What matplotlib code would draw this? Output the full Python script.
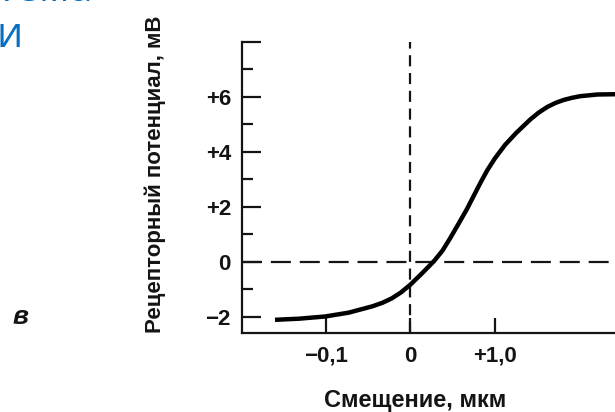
import matplotlib
matplotlib.use("Agg")
import matplotlib.pyplot as plt
from matplotlib.ticker import FixedLocator

# ---- data ----
displacement = [-1.60, -1.32, -1.01, -0.73, -0.45, -0.33, -0.22, -0.11, 0.0, 0.14,
                0.28, 0.38, 0.47, 0.57, 0.67, 0.75, 0.83, 0.91, 1.0, 1.12,
                1.25, 1.42, 1.52, 1.62, 1.72, 1.81, 1.91, 2.01, 2.21, 2.42]
potential = [-2.12, -2.08, -2.0, -1.86, -1.63, -1.50, -1.34, -1.12, -0.84, -0.42,
             0.02, 0.40, 0.85, 1.38, 1.92, 2.40, 2.88, 3.33, 3.76, 4.25,
             4.68, 5.18, 5.43, 5.63, 5.78, 5.88, 5.96, 6.02, 6.08, 6.09]
y_major = [-2, 0, 2, 4, 6, 8]
y_major_labels = ["\u22122", "0", "+2", "+4", "+6", ""]
y_minor = [-1, 1, 3, 5, 7]
x_ticks = [-1, 0, 1]
x_tick_labels = ["\u22120,1", "0", "+1,0"]
xlabel = "Смещение, мкм"
ylabel = "Рецепторный потенциал, мВ"

W, H = 615, 412
fig = plt.figure(figsize=(W / 100, H / 100), dpi=100)
fig.patch.set_facecolor("white")

# axes placement in pixels
ax_left, ax_right, ax_top, ax_bottom = 242, 616, 39, 333
ax = fig.add_axes([ax_left / W, (H - ax_bottom) / H,
                   (ax_right - ax_left) / W, (ax_bottom - ax_top) / H])
ax.set_xlim(-1.99, 2.43)
ax.set_ylim(-2.6, 8.1)

ink = "#141414"
font = "Liberation Sans"

for s in ["top", "right"]:
    ax.spines[s].set_visible(False)
for s in ["left", "bottom"]:
    ax.spines[s].set_color(ink)
    ax.spines[s].set_linewidth(1.6)
ax.spines["left"].set_bounds(-2.6, 8.0)

ax.yaxis.set_major_locator(FixedLocator(y_major))
ax.yaxis.set_minor_locator(FixedLocator(y_minor))
ax.set_yticklabels(y_major_labels)
ax.set_xticks(x_ticks)
ax.set_xticklabels(x_tick_labels)

ax.tick_params(axis="y", which="major", direction="in", length=14, width=1.6,
               color=ink, pad=8, labelsize=16, labelcolor=ink)
ax.tick_params(axis="y", which="minor", direction="in", length=8, width=1.6,
               color=ink)
ax.tick_params(axis="x", which="major", direction="in", length=11, width=1.6,
               color=ink, pad=9, labelsize=16, labelcolor=ink)
for lab in ax.get_xticklabels() + ax.get_yticklabels():
    lab.set_fontfamily(font)
    lab.set_fontweight("bold")

# reference dashed lines
ax.axhline(0, color=ink, lw=1.6, dashes=(9, 4), zorder=1)
ax.axvline(0, ymax=(8.0 + 2.6) / 10.7, color=ink, lw=1.6, dashes=(5, 3), zorder=1)

# curve
ax.plot(displacement, potential, color="black", lw=3.2, solid_capstyle="butt",
        solid_joinstyle="round", zorder=3, clip_on=False)

ax.set_facecolor("none")

# axis labels
fig.text(415 / W, 1 - 400 / H, xlabel, ha="center", va="center",
         fontsize=17, fontweight="bold", family=font, color=ink)
fig.text(155 / W, 1 - 174 / H, ylabel, ha="center", va="center", rotation=90,
         fontsize=16, fontweight="bold", family=font, color=ink)

# panel letter
fig.text(20 / W, 1 - 317 / H, "в", ha="center", va="center", fontsize=19,
         fontweight="bold", style="italic", family=font, color=ink)

# cut-off blue text fragments at top-left
blue = "#0a6fc2"
fig.text(-4 / W, 1 - 1 / H, "тема", ha="left", va="baseline", fontsize=30,
         family="Open Sans", color=blue)
fig.text(-4 / W, 1 - 47 / H, "и", ha="left", va="baseline", fontsize=30,
         family="Open Sans", color=blue)

fig.savefig("out.png", dpi=100, facecolor="white")
